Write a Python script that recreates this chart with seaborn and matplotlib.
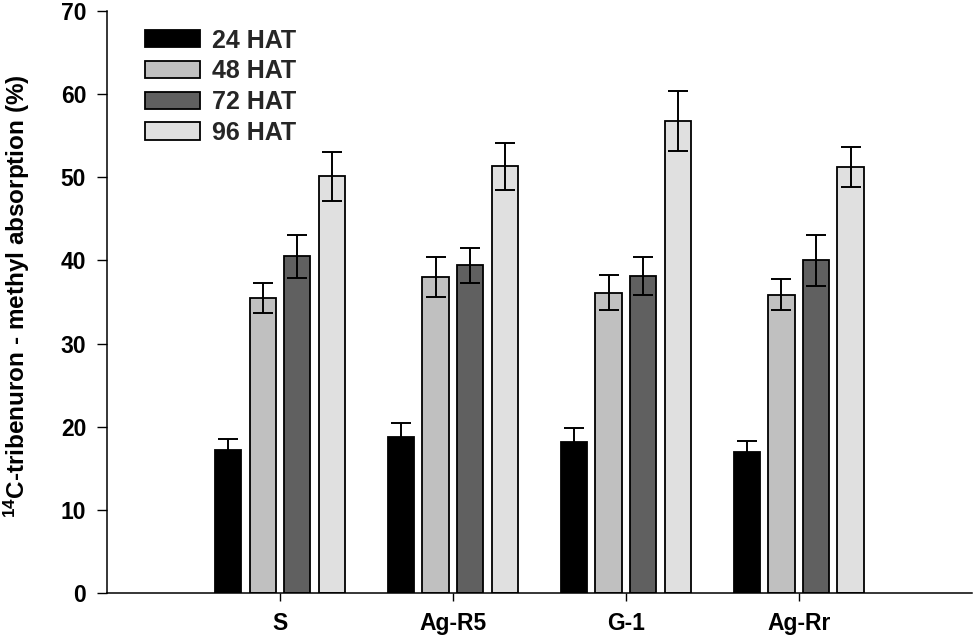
import numpy as np
import pandas as pd
import matplotlib
matplotlib.use("Agg")
import matplotlib.pyplot as plt
import matplotlib.patches as mpatches
import seaborn as sns

groups = ["S", "Ag-R5", "G-1", "Ag-Rr"]
series = ["24 HAT", "48 HAT", "72 HAT", "96 HAT"]
hat24 = [17.2, 18.8, 18.2, 17.0]
hat48 = [35.5, 38.0, 36.1, 35.9]
hat72 = [40.5, 39.4, 38.1, 40.0]
hat96 = [50.1, 51.3, 56.8, 51.2]
err24 = [1.35, 1.6, 1.7, 1.3]
err48 = [1.8, 2.4, 2.1, 1.9]
err72 = [2.6, 2.1, 2.3, 3.1]
err96 = [3.0, 2.8, 3.6, 2.4]
colors = ["#000000", "#c0c0c0", "#606060", "#e0e0e0"]

values = [hat24, hat48, hat72, hat96]
errors = [err24, err48, err72, err96]

df = pd.DataFrame({
    "group": [g for s in series for g in groups],
    "series": [s for s in series for g in groups],
    "value": [v for vals in values for v in vals],
})

sns.set_style("ticks")
plt.rcParams["font.family"] = ["Liberation Sans", "DejaVu Sans"]
plt.rcParams["mathtext.fontset"] = "custom"
plt.rcParams["mathtext.rm"] = "Liberation Sans:bold"
plt.rcParams["mathtext.default"] = "rm"

fig = plt.figure(figsize=(9.75, 6.4), dpi=100)
ax = fig.add_axes([107 / 975, 1 - 593 / 640, 864.7 / 975, 582 / 640])

sns.barplot(data=df, x="group", y="value", hue="series", order=groups,
            hue_order=series, palette=colors, width=0.8, gap=0.24,
            edgecolor="black", linewidth=1.3, errorbar=None, ax=ax,
            saturation=1)

bar_conts = list(ax.containers)
for i, cont in enumerate(bar_conts):
    xs = [b.get_x() + b.get_width() / 2 for b in cont]
    hs = [b.get_height() for b in cont]
    ax.errorbar(xs, hs, yerr=errors[i], fmt="none", ecolor="black",
                elinewidth=1.4, capsize=7, capthick=1.4, zorder=5)

ax.set_xlim(-1, 4)
ax.set_ylim(0, 70)
ax.set_yticks(range(0, 71, 10))
sns.despine(ax=ax)
for sp in ["left", "bottom"]:
    ax.spines[sp].set_linewidth(1.1)
    ax.spines[sp].set_color("black")
ax.tick_params(axis="y", direction="out", length=7, width=1.0, pad=8,
               labelsize=16.5, colors="black")
ax.tick_params(axis="x", direction="out", length=6, width=1.0, pad=8,
               labelsize=16.5, colors="black")
for lab in ax.get_xticklabels() + ax.get_yticklabels():
    lab.set_fontweight("bold")

ax.set_xlabel("")
ax.set_ylabel(r"$^{14}$C-tribenuron - methyl absorption (%)", fontsize=17.5,
              fontweight="bold", color="black")
ax.yaxis.set_label_coords(-0.087, 0.51)

handles = [mpatches.Patch(facecolor=c, edgecolor="black", linewidth=1.3)
           for c in colors]
ax.legend(handles, series, loc="upper left",
          bbox_to_anchor=(145 / 975, 1 - 28.5 / 640), bbox_transform=fig.transFigure,
          frameon=False, prop={"weight": "bold", "size": 18},
          handlelength=2.2, handleheight=0.68, labelspacing=0.27,
          handletextpad=0.5, borderpad=0, borderaxespad=0)

fig.savefig("out.png", dpi=100)
